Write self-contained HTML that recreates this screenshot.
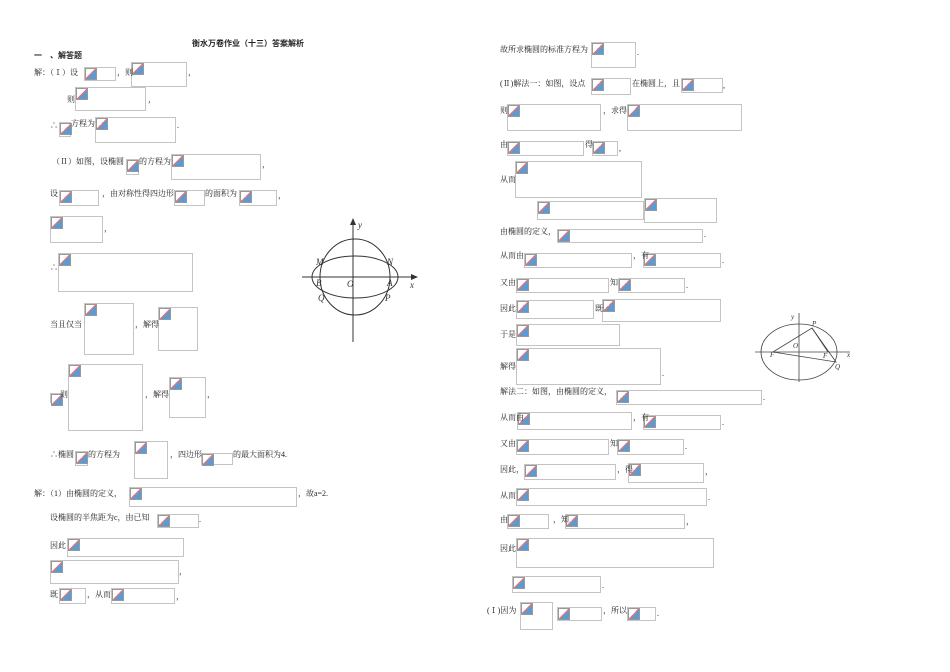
<!DOCTYPE html>
<html><head><meta charset="utf-8"><style>
body{margin:0;width:950px;height:672px;background:#fff;position:relative;overflow:hidden;font-family:"Liberation Serif","Noto Serif CJK SC",serif;font-size:8px;color:#222}
.t{position:absolute;line-height:12px;white-space:nowrap;z-index:2}
.b{position:absolute;border:1px solid #c4c4c4;box-sizing:border-box;z-index:1}
.b::before{content:"";position:absolute;left:0;top:0;width:10px;height:10px;border:1px solid #999;background:linear-gradient(to bottom right,#fff 45%,#d77 45%,#d77 55%,#5a9bd5 55%)}
</style></head><body>
<div class="t" style="left:192px;top:38px;font-weight:bold;font-family:'Liberation Sans','Noto Sans CJK SC',sans-serif">衡水万卷作业（十三）答案解析</div>
<div class="t" style="left:34px;top:50px;font-weight:bold;font-family:'Liberation Sans','Noto Sans CJK SC',sans-serif">一　、解答题</div>

<div class="t" style="left:34px;top:67px">解：（Ⅰ）设</div><div class="b" style="left:84px;top:67px;width:32px;height:14px"></div>
<div class="t" style="left:117px;top:67px">，则</div><div class="b" style="left:131px;top:62px;width:56px;height:25px"></div><div class="t" style="left:188px;top:67px">，</div>
<div class="t" style="left:67px;top:94px">则</div><div class="b" style="left:75px;top:87px;width:71px;height:24px"></div><div class="t" style="left:148px;top:94px">，</div>
<div class="t" style="left:50px;top:120px">∴</div><div class="b" style="left:59px;top:122px;width:12px;height:15px"></div><div class="t" style="left:71px;top:118px">方程为</div><div class="b" style="left:95px;top:117px;width:81px;height:26px"></div><div class="t" style="left:177px;top:120px">.</div>
<div class="t" style="left:52px;top:156px">（Ⅱ）如图，设椭圆</div><div class="b" style="left:126px;top:159px;width:13px;height:16px"></div><div class="t" style="left:139px;top:156px">的方程为</div><div class="b" style="left:171px;top:154px;width:90px;height:26px"></div><div class="t" style="left:262px;top:159px">，</div>
<div class="t" style="left:50px;top:188px">设</div><div class="b" style="left:59px;top:190px;width:40px;height:16px"></div><div class="t" style="left:102px;top:188px">，由对称性得四边形</div><div class="b" style="left:174px;top:190px;width:31px;height:16px"></div><div class="t" style="left:205px;top:188px">的面积为</div><div class="b" style="left:239px;top:190px;width:38px;height:16px"></div><div class="t" style="left:278px;top:190px">，</div>
<div class="b" style="left:50px;top:216px;width:53px;height:27px"></div><div class="t" style="left:104px;top:223px">，</div>
<div class="t" style="left:50px;top:262px">∴</div><div class="b" style="left:58px;top:253px;width:135px;height:39px"></div>
<div class="t" style="left:50px;top:319px">当且仅当</div><div class="b" style="left:84px;top:303px;width:50px;height:52px"></div><div class="t" style="left:135px;top:319px">，解得</div><div class="b" style="left:158px;top:307px;width:40px;height:44px"></div>
<div class="b" style="left:50px;top:393px;width:11px;height:10px"></div><div class="t" style="left:60px;top:389px">则</div><div class="b" style="left:68px;top:364px;width:75px;height:67px"></div><div class="t" style="left:145px;top:389px">，解得</div><div class="b" style="left:169px;top:377px;width:37px;height:41px"></div><div class="t" style="left:207px;top:389px">，</div>
<div class="t" style="left:50px;top:449px">∴椭圆</div><div class="b" style="left:75px;top:451px;width:13px;height:15px"></div><div class="t" style="left:88px;top:449px">的方程为</div><div class="b" style="left:134px;top:441px;width:34px;height:38px"></div><div class="t" style="left:170px;top:449px">，四边形</div><div class="b" style="left:201px;top:453px;width:32px;height:12px"></div><div class="t" style="left:233px;top:449px">的最大面积为4.</div>
<div class="t" style="left:34px;top:488px">解：（1）由椭圆的定义，</div><div class="b" style="left:129px;top:487px;width:168px;height:20px"></div><div class="t" style="left:298px;top:488px">，故a=2.</div>
<div class="t" style="left:50px;top:512px">设椭圆的半焦距为c，由已知</div><div class="b" style="left:157px;top:514px;width:42px;height:14px"></div><div class="t" style="left:199px;top:514px">.</div>
<div class="t" style="left:50px;top:540px">因此</div><div class="b" style="left:67px;top:538px;width:117px;height:19px"></div>
<div class="b" style="left:50px;top:560px;width:129px;height:24px"></div><div class="t" style="left:179px;top:566px">，</div>
<div class="t" style="left:50px;top:589px">既</div><div class="b" style="left:59px;top:588px;width:27px;height:16px"></div><div class="t" style="left:87px;top:589px">，从而</div><div class="b" style="left:111px;top:588px;width:64px;height:16px"></div><div class="t" style="left:176px;top:591px">，</div>

<svg style="position:absolute;left:290px;top:210px" width="150" height="135">
<g fill="none" stroke="#333" stroke-width="1">
<line x1="63" y1="132" x2="63" y2="14"/><line x1="12" y1="67" x2="122" y2="67"/>
<ellipse cx="65" cy="67" rx="35" ry="38"/><ellipse cx="65" cy="67" rx="43" ry="21"/></g>
<path d="M63 8l-3 7h6z M128 67l-7-3v6z" fill="#333"/>
<g font-family="Liberation Serif,serif" font-style="italic" font-size="9" fill="#333">
<text x="68" y="18">y</text><text x="120" y="78">x</text><text x="26" y="55">M</text><text x="97" y="55">N</text><text x="26" y="76">B</text><text x="57" y="77">O</text><text x="97" y="76">A</text><text x="28" y="91">Q</text><text x="95" y="91">P</text></g>
</svg>

<div class="t" style="left:500px;top:44px">故所求椭圆的标准方程为</div><div class="b" style="left:591px;top:42px;width:45px;height:26px"></div><div class="t" style="left:637px;top:47px">.</div>
<div class="t" style="left:500px;top:78px">(Ⅱ)解法一：如图，设点</div><div class="b" style="left:591px;top:78px;width:40px;height:17px"></div><div class="t" style="left:632px;top:78px">在椭圆上，且</div><div class="b" style="left:681px;top:78px;width:42px;height:15px"></div><div class="t" style="left:723px;top:80px">,</div>
<div class="t" style="left:500px;top:105px">则</div><div class="b" style="left:507px;top:104px;width:94px;height:27px"></div><div class="t" style="left:603px;top:105px">，求得</div><div class="b" style="left:627px;top:104px;width:115px;height:27px"></div>
<div class="t" style="left:500px;top:139px">由</div><div class="b" style="left:507px;top:141px;width:77px;height:15px"></div><div class="t" style="left:585px;top:139px">得</div><div class="b" style="left:592px;top:141px;width:26px;height:15px"></div><div class="t" style="left:619px;top:143px">,</div>
<div class="t" style="left:500px;top:174px">从而</div><div class="b" style="left:515px;top:161px;width:127px;height:37px"></div>
<div class="b" style="left:537px;top:201px;width:107px;height:19px"></div><div class="b" style="left:644px;top:198px;width:73px;height:25px"></div>
<div class="t" style="left:500px;top:226px">由椭圆的定义，</div><div class="b" style="left:557px;top:229px;width:146px;height:14px"></div><div class="t" style="left:704px;top:229px">.</div>
<div class="t" style="left:500px;top:250px">从而由</div><div class="b" style="left:524px;top:253px;width:108px;height:15px"></div><div class="t" style="left:633px;top:250px">，有</div><div class="b" style="left:643px;top:253px;width:78px;height:15px"></div><div class="t" style="left:722px;top:255px">.</div>
<div class="t" style="left:500px;top:277px">又由</div><div class="b" style="left:516px;top:278px;width:93px;height:15px"></div><div class="t" style="left:610px;top:277px">知</div><div class="b" style="left:618px;top:278px;width:67px;height:15px"></div><div class="t" style="left:686px;top:280px">.</div>
<div class="t" style="left:500px;top:303px">因此</div><div class="b" style="left:516px;top:300px;width:78px;height:19px"></div><div class="t" style="left:595px;top:303px">既</div><div class="b" style="left:602px;top:299px;width:119px;height:23px"></div>
<div class="t" style="left:500px;top:329px">于是</div><div class="b" style="left:516px;top:324px;width:104px;height:22px"></div>
<div class="t" style="left:500px;top:361px">解得</div><div class="b" style="left:516px;top:348px;width:145px;height:37px"></div><div class="t" style="left:662px;top:368px">.</div>

<svg style="position:absolute;left:750px;top:310px" width="110" height="75">
<g fill="none" stroke="#444" stroke-width="0.8">
<ellipse cx="49" cy="42" rx="38" ry="28"/><line x1="49" y1="3" x2="49" y2="72"/><line x1="5" y1="42" x2="100" y2="42"/>
<polyline points="23,42 62,18 86,52 23,42"/><line x1="62" y1="18" x2="78" y2="42"/></g>
<g font-family="Liberation Serif,serif" font-style="italic" font-size="7" fill="#333">
<text x="41" y="9">y</text><text x="62" y="16">P</text><text x="43" y="38">O</text><text x="20" y="47">F</text><text x="73" y="48">F</text><text x="85" y="59">Q</text><text x="97" y="47">x</text></g>
</svg>

<div class="t" style="left:500px;top:386px">解法二：如图，由椭圆的定义，</div><div class="b" style="left:616px;top:390px;width:146px;height:15px"></div><div class="t" style="left:763px;top:392px">.</div>
<div class="t" style="left:500px;top:412px">从而由</div><div class="b" style="left:517px;top:412px;width:115px;height:18px"></div><div class="t" style="left:633px;top:412px">，有</div><div class="b" style="left:643px;top:415px;width:78px;height:15px"></div><div class="t" style="left:722px;top:417px">.</div>
<div class="t" style="left:500px;top:438px">又由</div><div class="b" style="left:516px;top:439px;width:93px;height:16px"></div><div class="t" style="left:610px;top:438px">知</div><div class="b" style="left:617px;top:439px;width:67px;height:16px"></div><div class="t" style="left:685px;top:441px">.</div>
<div class="t" style="left:500px;top:464px">因此，</div><div class="b" style="left:524px;top:464px;width:92px;height:16px"></div><div class="t" style="left:617px;top:464px">，得</div><div class="b" style="left:628px;top:463px;width:76px;height:20px"></div><div class="t" style="left:705px;top:466px">，</div>
<div class="t" style="left:500px;top:490px">从而</div><div class="b" style="left:516px;top:488px;width:191px;height:18px"></div><div class="t" style="left:708px;top:492px">.</div>
<div class="t" style="left:500px;top:514px">由</div><div class="b" style="left:507px;top:514px;width:42px;height:15px"></div><div class="t" style="left:553px;top:514px">，知</div><div class="b" style="left:565px;top:514px;width:120px;height:15px"></div><div class="t" style="left:686px;top:516px">，</div>
<div class="t" style="left:500px;top:543px">因此</div><div class="b" style="left:516px;top:538px;width:198px;height:30px"></div>
<div class="b" style="left:512px;top:576px;width:89px;height:17px"></div><div class="t" style="left:602px;top:580px">.</div>
<div class="t" style="left:487px;top:605px">(Ⅰ)因为</div><div class="b" style="left:520px;top:602px;width:33px;height:28px"></div><div class="b" style="left:557px;top:607px;width:45px;height:14px"></div><div class="t" style="left:603px;top:605px">，所以</div><div class="b" style="left:627px;top:607px;width:29px;height:14px"></div><div class="t" style="left:657px;top:608px">.</div>
</body></html>
